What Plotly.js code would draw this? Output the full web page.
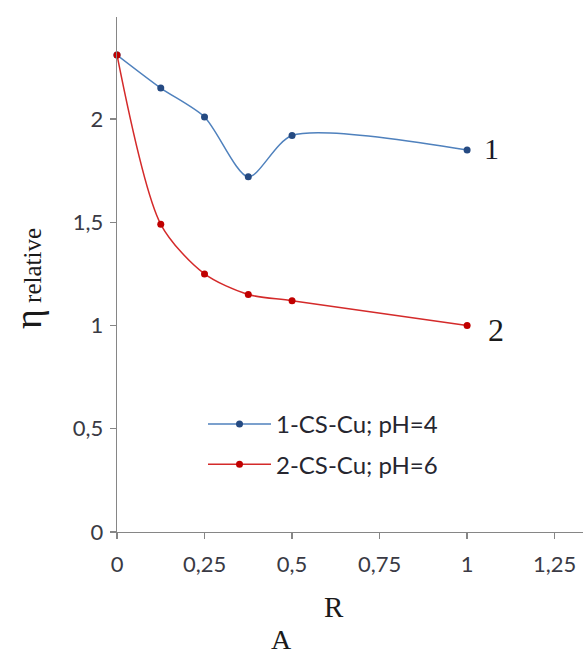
<!DOCTYPE html>
<html>
<head>
<meta charset="utf-8">
<script src="https://cdn.plot.ly/plotly-3.0.1.min.js"></script>
<style>html,body{margin:0;padding:0;background:#fff}#chart{width:583px;height:654px}</style>
</head>
<body>
<div id="chart"></div>
<script>
const R = [0, 0.125, 0.25, 0.375, 0.5, 1];
const eta1 = [2.31, 2.15, 2.01, 1.72, 1.92, 1.85];
const eta2 = [2.31, 1.49, 1.25, 1.15, 1.12, 1.0];
const seriesNames = ['1-CS-Cu; pH=4', '2-CS-Cu; pH=6'];
const xTickVals = [0, 0.25, 0.5, 0.75, 1, 1.25];
const xTickText = ['0', '0,25', '0,5', '0,75', '1', '1,25'];
const yTickVals = [0, 0.5, 1, 1.5, 2];
const yTickText = ['0', '0,5', '1', '1,5', '2'];
const curveLabels = ['1', '2'];

const W = 583, H = 654, L = 117, Rm = 0, T = 17, B = 122;
const pw = W - L - Rm, ph = H - T - B;
const px = x => (x - L) / pw;
const py = y => (H - B - y) / ph;

const traces = [
  {x: R, y: eta1, name: seriesNames[0], type: 'scatter', mode: 'lines+markers',
   line: {color: '#4F81BD', width: 1.5, shape: 'spline', smoothing: 0.75},
   marker: {color: '#254A82', size: 7, symbol: 'circle'}, cliponaxis: false, legendgroup: 'a'},
  {x: R, y: eta2, name: seriesNames[1], type: 'scatter', mode: 'lines+markers',
   line: {color: '#D42A2A', width: 1.5, shape: 'spline', smoothing: 0.8},
   marker: {color: '#C00000', size: 7, symbol: 'circle'}, cliponaxis: false, legendgroup: 'b'}
];

const serif = 'Liberation Serif, Times New Roman, serif';
const sans = 'Lato, Open Sans, sans-serif';

const layout = {
  width: W, height: H,
  margin: {l: L, r: Rm, t: T, b: B, pad: 0},
  paper_bgcolor: '#fff', plot_bgcolor: '#fff',
  showlegend: true,
  legend: {x: px(203), y: py(402), xanchor: 'left', yanchor: 'top',
    font: {family: sans, size: 24, color: '#262630'}, bgcolor: 'rgba(0,0,0,0)',
    traceorder: 'grouped', tracegroupgap: 6, itemwidth: 63},
  xaxis: {range: [0, 1.331], tickvals: xTickVals, ticktext: xTickText,
    showline: true, linecolor: '#868686', linewidth: 1.3, ticks: 'outside', ticklen: 6,
    tickcolor: '#868686', tickwidth: 1.3, showgrid: false, zeroline: false,
    tickfont: {family: sans, size: 22, color: '#3a3a44'}, ticklabelstandoff: 6, fixedrange: true},
  yaxis: {range: [0, 2.494], tickvals: yTickVals, ticktext: yTickText,
    showline: true, linecolor: '#868686', linewidth: 1.3, ticks: 'outside', ticklen: 6,
    tickcolor: '#868686', tickwidth: 1.3, showgrid: false, zeroline: false,
    tickfont: {family: sans, size: 22, color: '#3a3a44'}, ticklabelstandoff: 2, fixedrange: true},
  annotations: [
    {xref: 'paper', yref: 'paper', x: px(334), y: py(607), text: 'R', showarrow: false,
     font: {family: serif, size: 29, color: '#1a1a1a'}, xanchor: 'center', yanchor: 'middle'},
    {xref: 'paper', yref: 'paper', x: px(281), y: py(639), text: 'A', showarrow: false,
     font: {family: serif, size: 28, color: '#1a1a1a'}, xanchor: 'center', yanchor: 'middle'},
    {xref: 'paper', yref: 'paper', x: px(28), y: py(279), textangle: -90,
     text: 'η<span style="font-size:25px"> relative</span>', showarrow: false,
     font: {family: serif, size: 38, color: '#1a1a1a'}, xanchor: 'center', yanchor: 'middle'},
    {xref: 'paper', yref: 'paper', x: px(491), y: py(148), text: curveLabels[0], showarrow: false,
     font: {family: serif, size: 30, color: '#1a1a2a'}, xanchor: 'center', yanchor: 'middle'},
    {xref: 'paper', yref: 'paper', x: px(496), y: py(330), text: curveLabels[1], showarrow: false,
     font: {family: serif, size: 32, color: '#1a1a1a'}, xanchor: 'center', yanchor: 'middle'}
  ]
};

Plotly.newPlot('chart', traces, layout, {displayModeBar: false, staticPlot: true});
</script>
</body>
</html>
